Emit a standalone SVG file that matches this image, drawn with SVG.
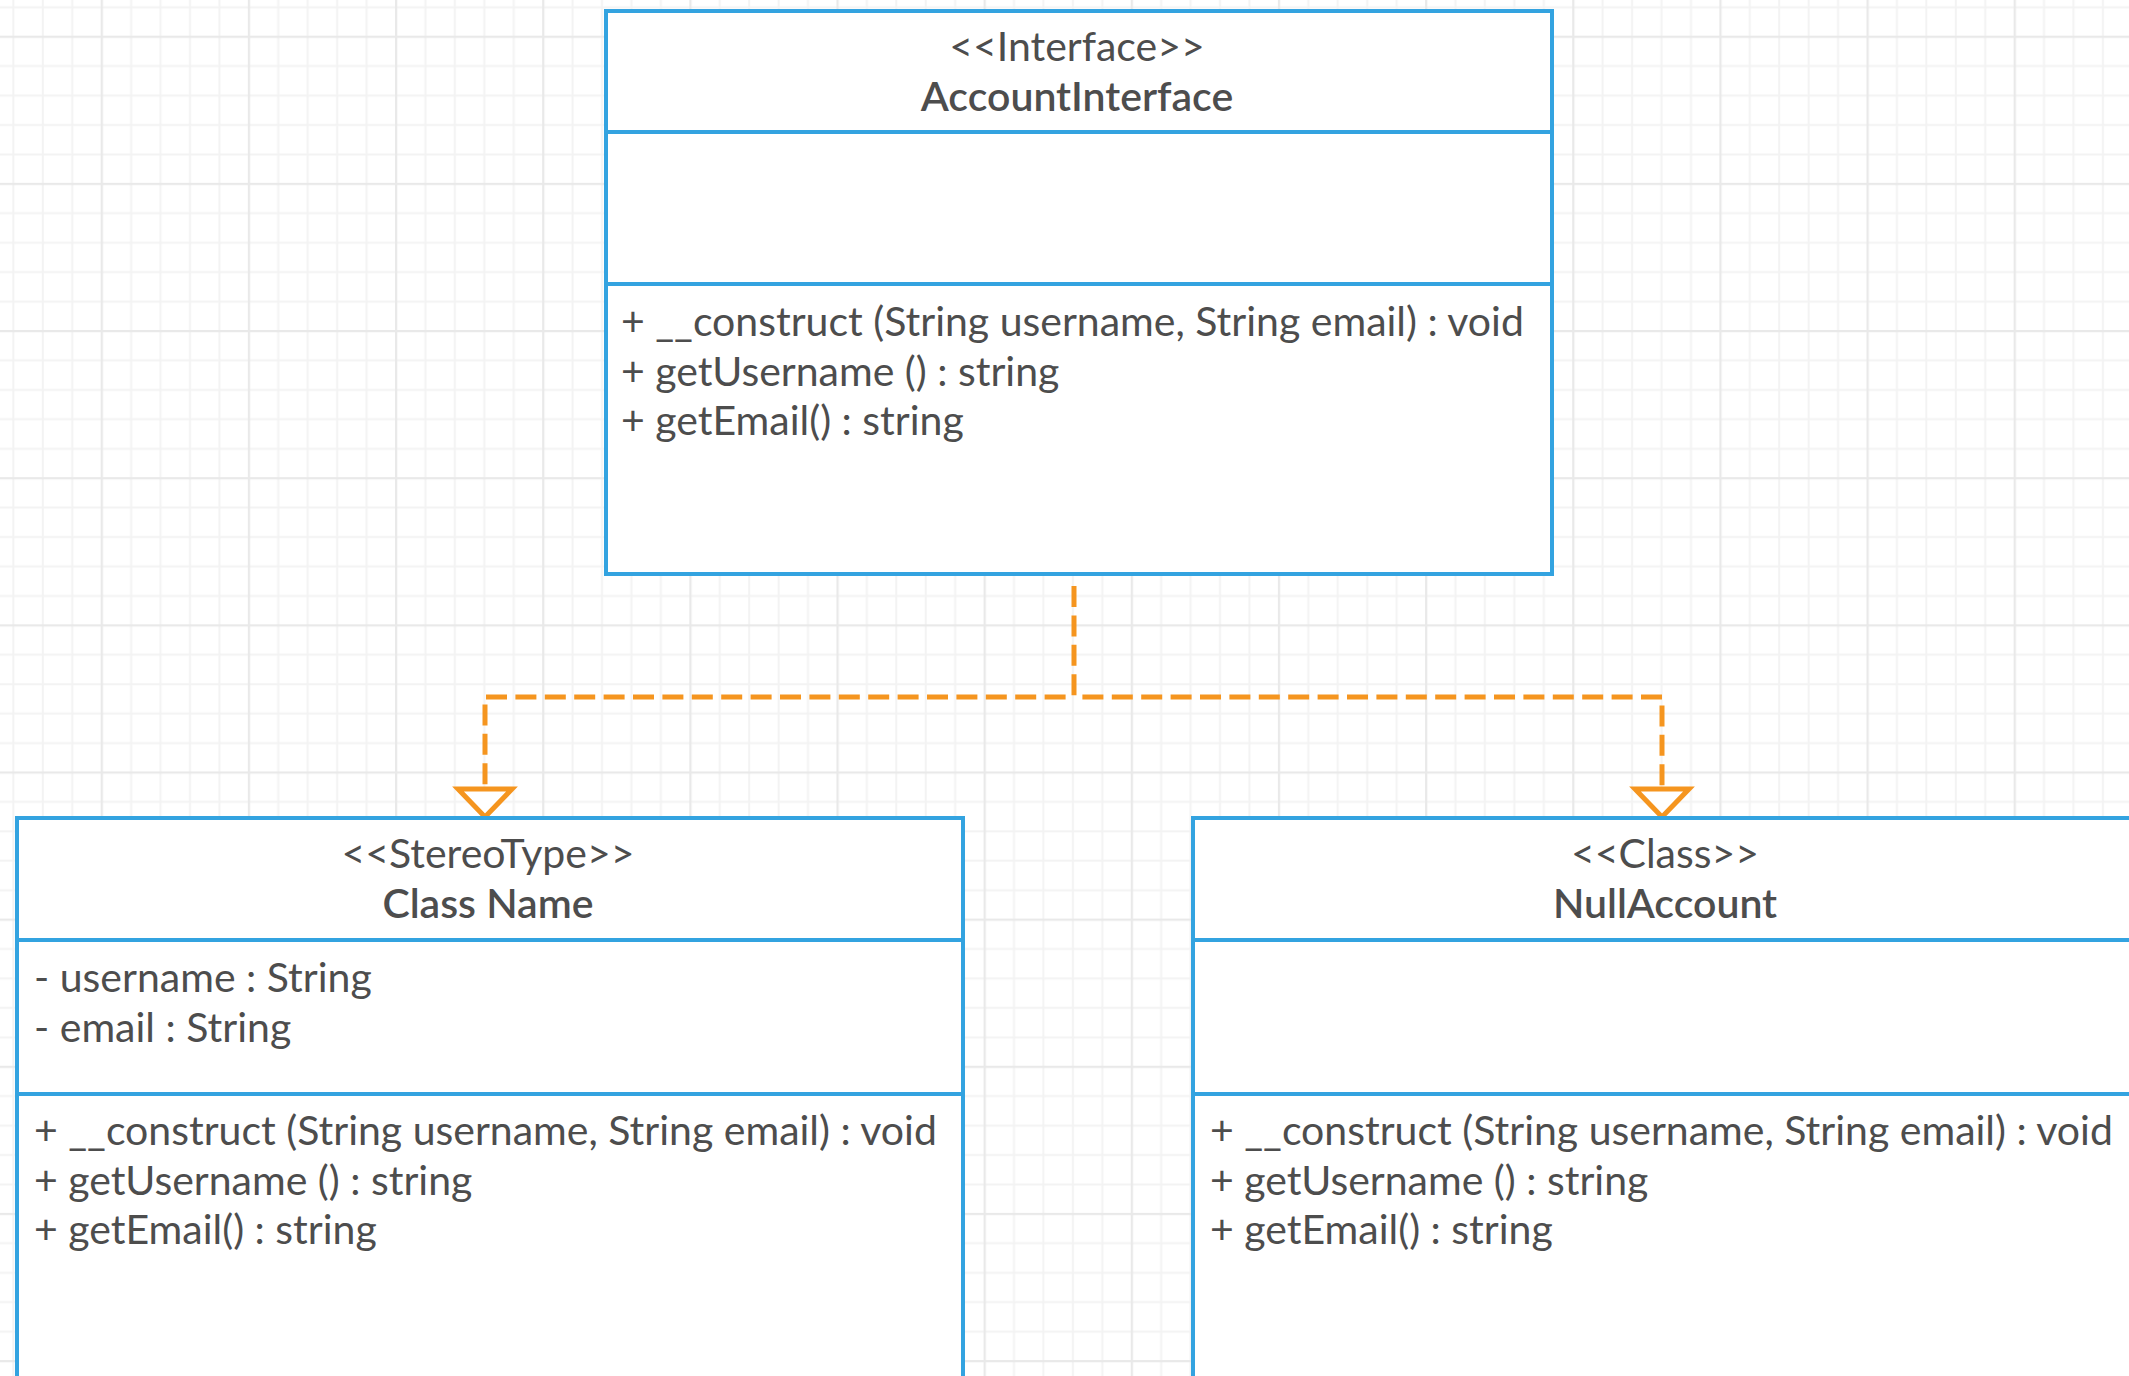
<svg xmlns="http://www.w3.org/2000/svg" width="2129" height="1376" viewBox="0 0 2129 1376">
  <style>
    .box { fill: #ffffff; stroke: #33a3e0; stroke-width: 4; }
    .div { stroke: #33a3e0; stroke-width: 4; }
    .stereo { font-family: Lato, "Liberation Sans", sans-serif; font-size: 41px; fill: #4d4d4d; text-anchor: middle; }
    .name { font-family: Lato, "Liberation Sans", sans-serif; font-size: 41px; font-weight: 600; fill: #4d4d4d; text-anchor: middle; }
    .member { font-family: Lato, "Liberation Sans", sans-serif; font-size: 41px; fill: #4d4d4d; }
    .link { fill: none; stroke: #f5951f; stroke-width: 5; stroke-dasharray: 21 8.4; }
    .minor { stroke: #f3f3f3; stroke-width: 2; }
    .major { stroke: #e9e9e9; stroke-width: 2.5; }
  </style>
  <defs>
    <!-- background grid: major line every 5 minor cells -->
    <pattern id="grid" patternUnits="userSpaceOnUse" x="100.7" y="35.7" width="147.15" height="147.15">
      <line class="minor" x1="30.43" y1="0" x2="30.43" y2="147.15"/>
      <line class="minor" x1="59.86" y1="0" x2="59.86" y2="147.15"/>
      <line class="minor" x1="89.29" y1="0" x2="89.29" y2="147.15"/>
      <line class="minor" x1="118.72" y1="0" x2="118.72" y2="147.15"/>
      <line class="minor" x1="0" y1="30.43" x2="147.15" y2="30.43"/>
      <line class="minor" x1="0" y1="59.86" x2="147.15" y2="59.86"/>
      <line class="minor" x1="0" y1="89.29" x2="147.15" y2="89.29"/>
      <line class="minor" x1="0" y1="118.72" x2="147.15" y2="118.72"/>
      <line class="major" x1="1" y1="0" x2="1" y2="147.15"/>
      <line class="major" x1="0" y1="1" x2="147.15" y2="1"/>
    </pattern>
    <!-- hollow triangle head for realization -->
    <marker id="realize" markerUnits="userSpaceOnUse" viewBox="-4 -32 40 64" markerWidth="40" markerHeight="64" refX="0" refY="0" orient="auto" overflow="visible">
      <path d="M0,-27 L28,0 L0,27 Z" fill="#ffffff" stroke="#f5951f" stroke-width="5" stroke-dasharray="none" stroke-linejoin="miter"/>
    </marker>
  </defs>

  <rect x="0" y="0" width="2129" height="1376" fill="#ffffff"/>
  <rect x="0" y="0" width="2129" height="1376" fill="url(#grid)"/>

  <!-- connectors -->
  <g id="connectors">
    <path class="link" d="M1074,586 V697"/>
    <path class="link" stroke-dashoffset="21" d="M1074,697 H485 V789" marker-end="url(#realize)"/>
    <path class="link" stroke-dashoffset="21" d="M1074,697 H1662 V789" marker-end="url(#realize)"/>
  </g>

  <!-- interface -->
  <g id="AccountInterface">
    <rect class="box" x="606" y="11" width="946" height="563"/>
    <line class="div" x1="606" y1="132" x2="1552" y2="132"/>
    <line class="div" x1="606" y1="284" x2="1552" y2="284"/>
    <text class="stereo" x="1077" y="61">&lt;&lt;Interface&gt;&gt;</text>
    <text class="name" x="1077" y="111">AccountInterface</text>
    <text class="member" x="621" y="336">+ __construct (String username, String email) : void</text>
    <text class="member" x="621" y="386">+ getUsername () : string</text>
    <text class="member" x="621" y="435">+ getEmail() : string</text>
  </g>

  <!-- implementing class -->
  <g id="ClassName">
    <rect class="box" x="17" y="818" width="946" height="600"/>
    <line class="div" x1="17" y1="940" x2="963" y2="940"/>
    <line class="div" x1="17" y1="1094" x2="963" y2="1094"/>
    <text class="stereo" x="488" y="868">&lt;&lt;StereoType&gt;&gt;</text>
    <text class="name" x="488" y="918">Class Name</text>
    <text class="member" x="34" y="992">- username : String</text>
    <text class="member" x="34" y="1042">- email : String</text>
    <text class="member" x="34" y="1145">+ __construct (String username, String email) : void</text>
    <text class="member" x="34" y="1195">+ getUsername () : string</text>
    <text class="member" x="34" y="1244">+ getEmail() : string</text>
  </g>

  <!-- null object -->
  <g id="NullAccount">
    <rect class="box" x="1193" y="818" width="946" height="600"/>
    <line class="div" x1="1193" y1="940" x2="2139" y2="940"/>
    <line class="div" x1="1193" y1="1094" x2="2139" y2="1094"/>
    <text class="stereo" x="1665" y="868">&lt;&lt;Class&gt;&gt;</text>
    <text class="name" x="1665" y="918">NullAccount</text>
    <text class="member" x="1210" y="1145">+ __construct (String username, String email) : void</text>
    <text class="member" x="1210" y="1195">+ getUsername () : string</text>
    <text class="member" x="1210" y="1244">+ getEmail() : string</text>
  </g>
</svg>
